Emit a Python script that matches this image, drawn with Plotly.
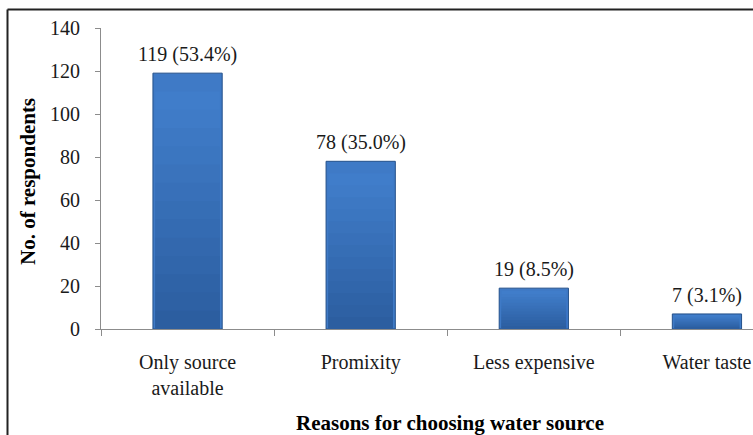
import plotly.graph_objects as go

# Survey data: reasons respondents gave for their choice of water source
reasons = ["Only source<br>available", "Promixity", "Less expensive", "Water taste"]
respondents = [119, 78, 19, 7]
percent = [53.4, 35.0, 8.5, 3.1]

y_ticks = [0, 20, 40, 60, 80, 100, 120, 140]

W, H = 753, 435
L, R, T, B = 101, 0, 28, 106
plot_w = W - L - R
plot_h = H - T - B


def px_to_paper(px, py):
    return (px - L) / plot_w, (H - B - py) / plot_h


SERIF = "Liberation Serif, Times New Roman, serif"
AXIS_GREY = "#8c8c8c"
BAR_W = 0.4

fig = go.Figure()

# base bar with dark outline
fig.add_trace(go.Bar(
    x=reasons, y=respondents, width=BAR_W,
    marker=dict(color="#3f7ac6", line=dict(color="#24508a", width=1)),
    showlegend=False, hoverinfo="skip",
))

# vertical shading: overlaid bars of decreasing height, darker toward the base
top_rgb = (66, 128, 206)
bottom_rgb = (44, 94, 160)
steps = 14
for k in range(1, steps):
    frac = 1 - k / steps
    t = k / (steps - 1)
    c = tuple(round(a + (b - a) * t) for a, b in zip(top_rgb, bottom_rgb))
    fig.add_trace(go.Bar(
        x=reasons, y=[v * frac for v in respondents], width=BAR_W * 0.93,
        marker=dict(color=f"rgb{c}", line=dict(width=0)),
        showlegend=False, hoverinfo="skip",
    ))

# value labels above bars
for cat, v, p in zip(reasons, respondents, percent):
    fig.add_annotation(
        x=cat, y=v, text=f"{v} ({p:.1f}%)",
        xref="x", yref="y", yanchor="bottom", yshift=5,
        showarrow=False, font=dict(family=SERIF, size=20, color="#1a1a1a"),
    )

# axis titles
tx, ty = px_to_paper(450, 437)
fig.add_annotation(
    x=tx, y=ty, xref="paper", yref="paper", text="<b>Reasons for choosing water source</b>",
    showarrow=False, font=dict(family=SERIF, size=21, color="#000000"),
)
tx, ty = px_to_paper(14, 182)
fig.add_annotation(
    x=tx, y=ty, xref="paper", yref="paper", text="<b>No. of respondents</b>",
    textangle=-90, showarrow=False, font=dict(family=SERIF, size=21, color="#000000"),
)

# outer frame (left and top edges)
x0, y0 = px_to_paper(7.5, 9.5)
x1, y1 = px_to_paper(760, 445)
fig.add_shape(type="line", xref="paper", yref="paper", x0=x0, y0=y0, x1=x0, y1=y1,
              line=dict(color="#222222", width=2))
fig.add_shape(type="line", xref="paper", yref="paper", x0=x0, y0=y0, x1=x1, y1=y0,
              line=dict(color="#222222", width=2))

fig.update_layout(
    width=W, height=H,
    margin=dict(l=L, r=R, t=T, b=B),
    paper_bgcolor="white", plot_bgcolor="white",
    barmode="overlay",
    font=dict(family=SERIF, color="#1a1a1a"),
)

fig.update_xaxes(
    range=[-0.5, 3.266],
    tickson="boundaries",
    ticks="outside", ticklen=6, tickcolor=AXIS_GREY, tickwidth=1,
    showline=True, linecolor=AXIS_GREY, linewidth=1,
    showgrid=False, zeroline=False,
    tickfont=dict(family=SERIF, size=20, color="#1a1a1a"),
    ticklabelstandoff=15,
)
fig.update_yaxes(
    range=[0, 140],
    tickvals=y_ticks,
    ticks="outside", ticklen=5, tickcolor=AXIS_GREY, tickwidth=1,
    showline=True, linecolor=AXIS_GREY, linewidth=1,
    showgrid=False, zeroline=False,
    tickfont=dict(family=SERIF, size=20, color="#1a1a1a"),
    ticklabelstandoff=11,
)

fig.write_html("out.html")
